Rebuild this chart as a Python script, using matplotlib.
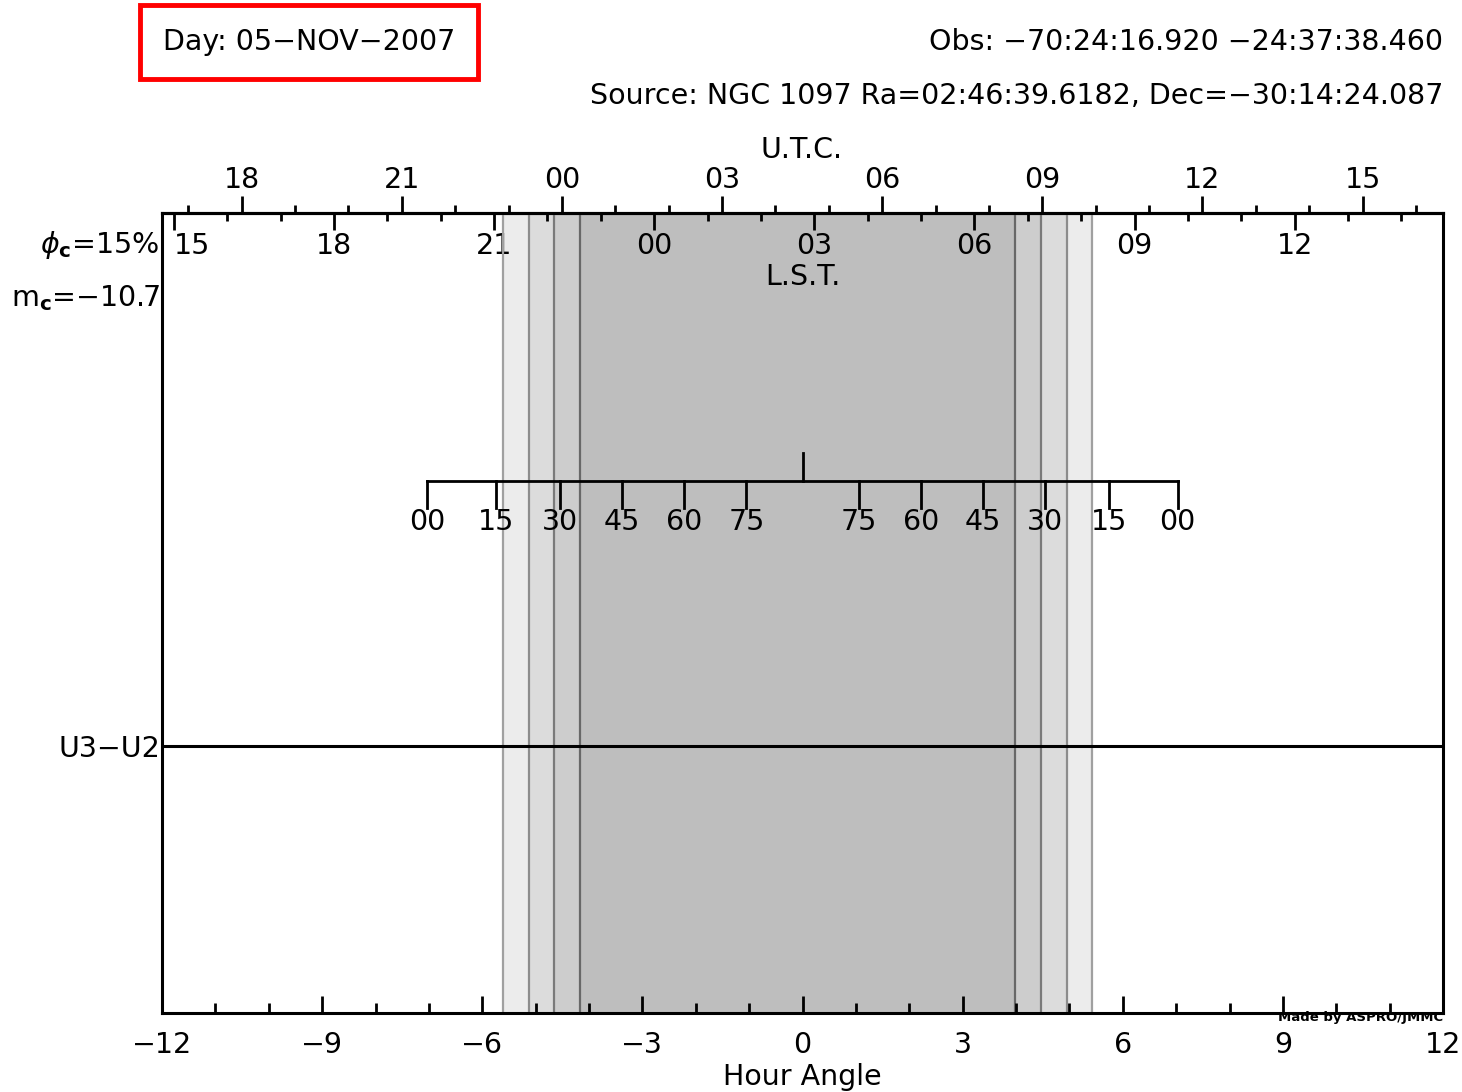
import matplotlib
matplotlib.use('Agg')
import matplotlib.pyplot as plt
from matplotlib.ticker import FixedLocator

# --- values ---
ha_major = [-12, -9, -6, -3, 0, 3, 6, 9, 12]
ha_minor = list(range(-12, 13))
utc_offset = 4.506  # UTC = HA + offset
ra_hours = 2.778    # LST = HA + RA
utc_major = [-6, -3, 0, 3, 6, 9, 12, 15]
utc_minor = list(range(-7, 17))
lst_major = [-9, -6, -3, 0, 3, 6, 9, 12]
lst_minor = list(range(-9, 15))

# twilight / night bands (hour angle edges)
band_edges = [-5.61, -5.12, -4.66, -4.17, 3.98, 4.47, 4.96, 5.42]
band_colors = ['#ececec', '#dcdcdc', '#cdcdcd', '#bebebe', '#cdcdcd', '#dcdcdc', '#ececec']
edge_colors = ['#a0a0a0', '#8c8c8c', '#7a7a7a', '#686868', '#686868', '#7a7a7a', '#8c8c8c', '#a0a0a0']

# elevation scale: elevation (deg) -> hour angle where it is reached
elev_labels = ['00', '15', '30', '45', '60', '75']
elev_ha = [7.03, 5.75, 4.55, 3.38, 2.22, 1.05]

baseline_name = 'U3\u2212U2'
baseline_y = 0.334

FS = 20.5
plt.rcParams['font.family'] = ['DejaVu Sans']

fig = plt.figure(figsize=(14.62, 10.92), dpi=100)
W, H = 1462, 1092
ax = fig.add_axes([162 / W, 1 - 1013 / H, (1443 - 162) / W, 800 / H])
ax.set_xlim(-12, 12)
ax.set_ylim(0, 1)

for i, c in enumerate(band_colors):
    ax.axvspan(band_edges[i], band_edges[i + 1], color=c, lw=0, zorder=0)
for x, c in zip(band_edges, edge_colors):
    ax.axvline(x, color=c, lw=1.6, zorder=1)

# baseline
ax.axhline(baseline_y, color='black', lw=2.2, zorder=2)
ax.set_yticks([baseline_y])
ax.set_yticklabels([baseline_name], fontsize=FS)
ax.tick_params(axis='y', length=0, pad=1)

# elevation scale
yb, yt = 0.665, 0.631
ax.plot([-elev_ha[0], elev_ha[0]], [yb, yb], color='black', lw=2, zorder=3)
ax.plot([0, 0], [yb, 0.70], color='black', lw=2, zorder=3)
for lab, h in zip(elev_labels, elev_ha):
    for s in (-1, 1):
        ax.plot([s * h, s * h], [yb, yt], color='black', lw=2, zorder=3)
        ax.text(s * h, 0.614, lab, ha='center', va='center', fontsize=FS, zorder=4)

for sp in ax.spines.values():
    sp.set_linewidth(2.2)

# bottom axis (hour angle)
ax.set_xticks(ha_major)
ax.xaxis.set_minor_locator(FixedLocator(ha_minor))
ax.tick_params(axis='x', which='major', direction='in', length=12, width=2, labelsize=FS, pad=13)
ax.tick_params(axis='x', which='minor', direction='in', length=7, width=2)
ax.set_xlabel('Hour Angle', fontsize=FS, labelpad=3)

# top axis: UTC (outside)
utc = ax.secondary_xaxis('top', functions=(lambda x: x + utc_offset, lambda x: x - utc_offset))
utc.set_xticks(utc_major)
utc.set_xticklabels(['%02d' % (v % 24) for v in utc_major])
utc.xaxis.set_minor_locator(FixedLocator(utc_minor))
utc.tick_params(axis='x', which='major', direction='out', length=12, width=2, labelsize=FS, pad=2)
utc.tick_params(axis='x', which='minor', direction='out', length=6, width=2)
utc.spines['top'].set_linewidth(2.2)

# top axis: LST (inside)
lst = ax.secondary_xaxis('top', functions=(lambda x: x + ra_hours, lambda x: x - ra_hours))
lst.set_xticks(lst_major)
lst.set_xticklabels(['%02d' % (v % 24) for v in lst_major])
lst.xaxis.set_minor_locator(FixedLocator(lst_minor))
lst.tick_params(axis='x', which='major', direction='in', length=12, width=2, labelsize=FS, pad=-34)
lst.tick_params(axis='x', which='minor', direction='in', length=6, width=2)
lst.spines['top'].set_linewidth(2.2)
# first LST label sits just right of the frame in the reference
lst.get_xticklabels()[0].set_ha('left')

ax.text(0.5, 0.92, 'L.S.T.', transform=ax.transAxes, ha='center', va='center', fontsize=FS)
fig.text(802 / W, 1 - 150 / H, 'U.T.C.', ha='center', va='center', fontsize=FS)

# left annotations
fig.text(159 / W, 1 - 245 / H, r'$\phi_\mathbf{c}$=15%', ha='right', va='center', fontsize=FS)
fig.text(160 / W, 1 - 298 / H, r'm$_\mathbf{c}$=$-$10.7', ha='right', va='center', fontsize=FS)

# header
fig.text(163 / W, 1 - 42 / H, 'Day: 05\u2212NOV\u22122007', ha='left', va='center', fontsize=FS,
         bbox=dict(boxstyle='square,pad=0.8', fc='white', ec='#ff0000', lw=3.5))
fig.text(1443 / W, 1 - 42 / H, 'Obs: \u221270:24:16.920 \u221224:37:38.460',
         ha='right', va='center', fontsize=FS)
fig.text(1443 / W, 1 - 96 / H, 'Source: NGC 1097 Ra=02:46:39.6182, Dec=\u221230:14:24.087',
         ha='right', va='center', fontsize=FS)

fig.text(1443 / W, 1 - 1018 / H, 'Made by ASPRO/JMMC', ha='right', va='center',
         fontsize=9.5, fontweight='bold')

fig.savefig('out.png', dpi=100)
